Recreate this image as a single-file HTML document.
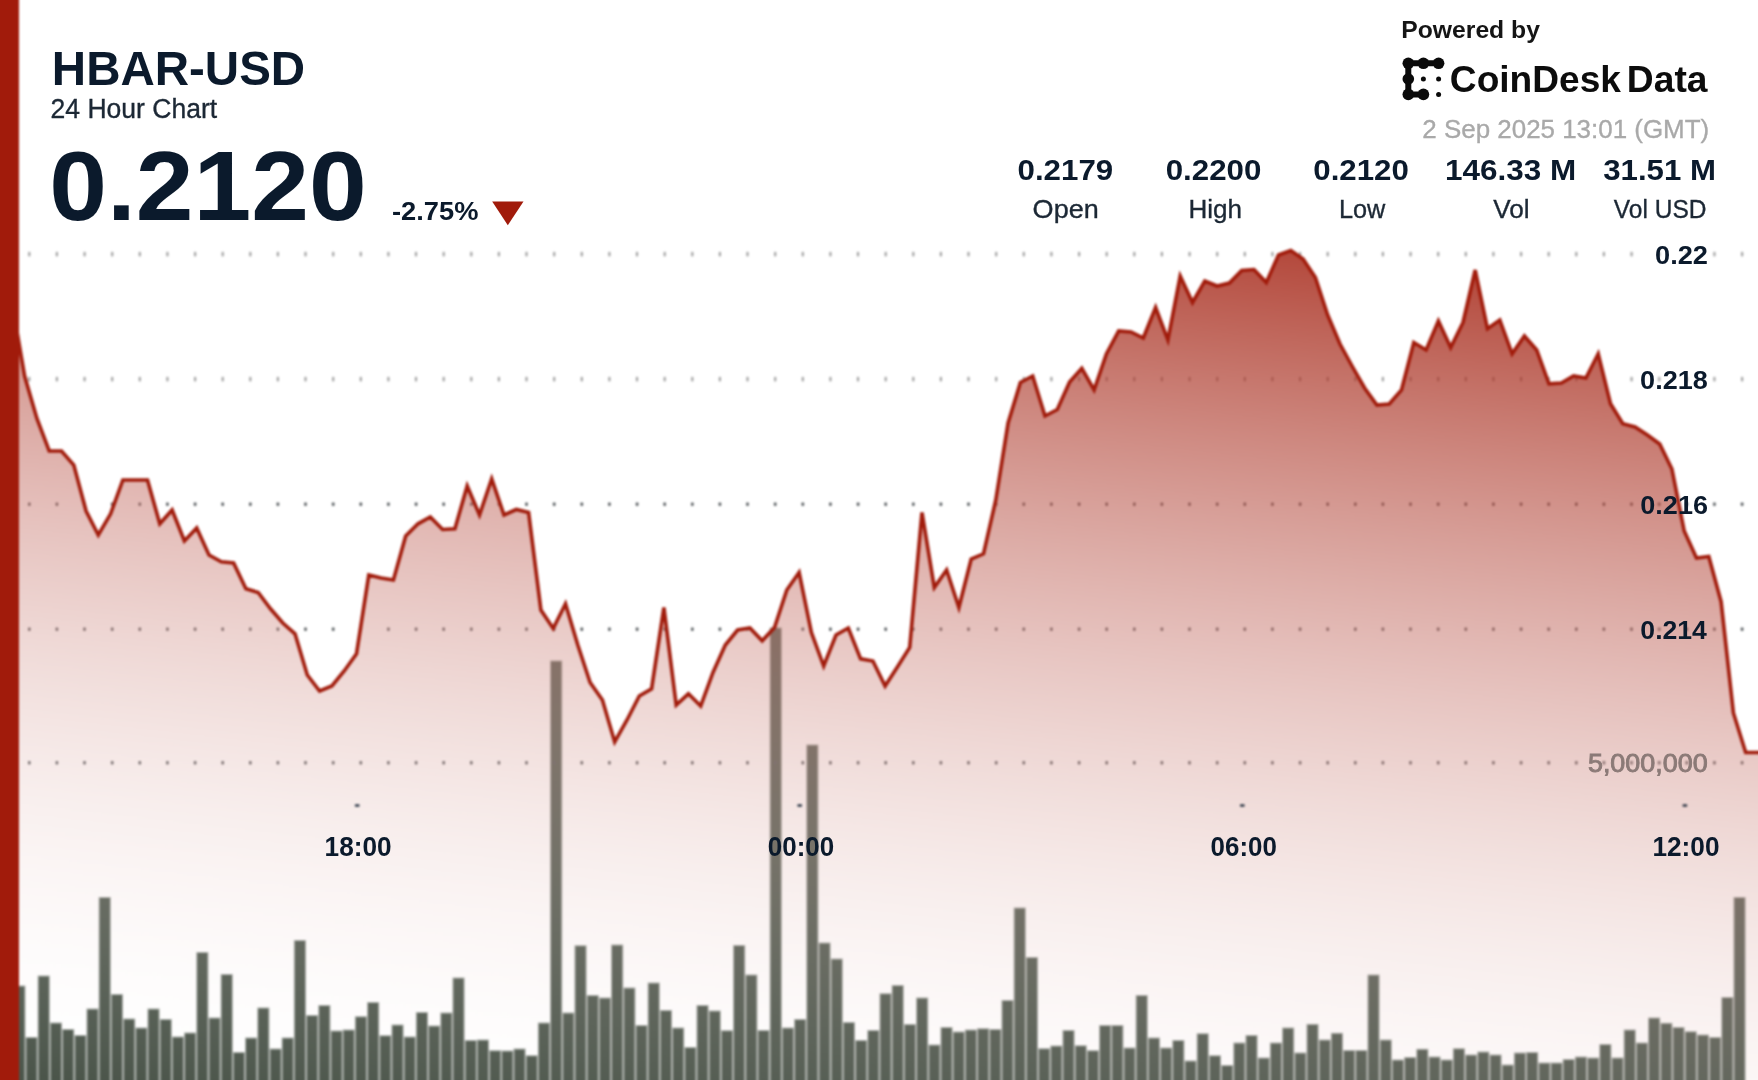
<!DOCTYPE html>
<html><head><meta charset="utf-8"><title>HBAR-USD 24 Hour Chart</title>
<style>
html,body{margin:0;padding:0;background:#fff;}
body{width:1758px;height:1080px;overflow:hidden;position:relative;font-family:"Liberation Sans",sans-serif;}
svg{position:absolute;left:0;top:0;display:block}
text{font-family:"Liberation Sans",sans-serif;}
.b{font-weight:700}
</style></head><body>
<svg width="1798" height="1120" viewBox="-20 -20 1798 1120" style="left:-20px;top:-20px">
<defs>
<linearGradient id="g" gradientUnits="userSpaceOnUse" x1="0" y1="103" x2="-111.2" y2="1074.3">
<stop offset="0.00" stop-color="#a11b0b" stop-opacity="0.800"/>
<stop offset="0.10" stop-color="#aa3223" stop-opacity="0.720"/>
<stop offset="0.20" stop-color="#b4493c" stop-opacity="0.640"/>
<stop offset="0.30" stop-color="#bd5f54" stop-opacity="0.560"/>
<stop offset="0.40" stop-color="#c7766d" stop-opacity="0.480"/>
<stop offset="0.50" stop-color="#d08d85" stop-opacity="0.400"/>
<stop offset="0.60" stop-color="#d9a49d" stop-opacity="0.320"/>
<stop offset="0.70" stop-color="#e3bbb6" stop-opacity="0.240"/>
<stop offset="0.80" stop-color="#ecd1ce" stop-opacity="0.160"/>
<stop offset="0.90" stop-color="#f6e8e7" stop-opacity="0.080"/>
<stop offset="1.00" stop-color="#ffffff" stop-opacity="0.000"/>
</linearGradient>
<linearGradient id="bg" gradientUnits="userSpaceOnUse" x1="0" y1="650" x2="0" y2="1080">
<stop offset="0" stop-color="#576156"/><stop offset="1" stop-color="#495348"/>
</linearGradient>
</defs>
<g style="filter:blur(1.0px)">
<rect x="-20" y="-20" width="1798" height="1120" fill="#fff"/>

<g fill="url(#bg)" stroke="#525c51" stroke-opacity="0.5" stroke-width="2.0">
<rect x="2.05" y="1000.5" width="10.2" height="105.0"/>
<rect x="14.25" y="986.5" width="10.2" height="119.0"/>
<rect x="26.45" y="1038.0" width="10.2" height="67.5"/>
<rect x="38.65" y="976.5" width="10.2" height="129.0"/>
<rect x="50.85" y="1023.5" width="10.2" height="82.0"/>
<rect x="63.05" y="1030.0" width="10.2" height="75.5"/>
<rect x="75.25" y="1036.0" width="10.2" height="69.5"/>
<rect x="87.45" y="1009.5" width="10.2" height="96.0"/>
<rect x="99.65" y="898.0" width="10.2" height="207.5"/>
<rect x="111.85" y="995.0" width="10.2" height="110.5"/>
<rect x="124.05" y="1019.5" width="10.2" height="86.0"/>
<rect x="136.25" y="1028.5" width="10.2" height="77.0"/>
<rect x="148.45" y="1009.5" width="10.2" height="96.0"/>
<rect x="160.65" y="1020.0" width="10.2" height="85.5"/>
<rect x="172.85" y="1037.5" width="10.2" height="68.0"/>
<rect x="185.05" y="1033.5" width="10.2" height="72.0"/>
<rect x="197.25" y="953.0" width="10.2" height="152.5"/>
<rect x="209.45" y="1018.5" width="10.2" height="87.0"/>
<rect x="221.65" y="975.0" width="10.2" height="130.5"/>
<rect x="233.85" y="1053.0" width="10.2" height="52.5"/>
<rect x="246.05" y="1038.5" width="10.2" height="67.0"/>
<rect x="258.25" y="1008.5" width="10.2" height="97.0"/>
<rect x="270.45" y="1049.5" width="10.2" height="56.0"/>
<rect x="282.65" y="1038.5" width="10.2" height="67.0"/>
<rect x="294.85" y="941.0" width="10.2" height="164.5"/>
<rect x="307.05" y="1016.0" width="10.2" height="89.5"/>
<rect x="319.25" y="1006.0" width="10.2" height="99.5"/>
<rect x="331.45" y="1031.5" width="10.2" height="74.0"/>
<rect x="343.65" y="1030.5" width="10.2" height="75.0"/>
<rect x="355.85" y="1017.2" width="10.2" height="88.2"/>
<rect x="368.05" y="1003.0" width="10.2" height="102.5"/>
<rect x="380.25" y="1036.2" width="10.2" height="69.2"/>
<rect x="392.45" y="1025.5" width="10.2" height="80.0"/>
<rect x="404.65" y="1037.5" width="10.2" height="68.0"/>
<rect x="416.85" y="1013.0" width="10.2" height="92.5"/>
<rect x="429.05" y="1026.5" width="10.2" height="79.0"/>
<rect x="441.25" y="1013.5" width="10.2" height="92.0"/>
<rect x="453.45" y="978.5" width="10.2" height="127.0"/>
<rect x="465.65" y="1041.0" width="10.2" height="64.5"/>
<rect x="477.85" y="1040.5" width="10.2" height="65.0"/>
<rect x="490.05" y="1051.2" width="10.2" height="54.2"/>
<rect x="502.25" y="1051.5" width="10.2" height="54.0"/>
<rect x="514.45" y="1049.5" width="10.2" height="56.0"/>
<rect x="526.65" y="1056.2" width="10.2" height="49.2"/>
<rect x="538.85" y="1023.5" width="10.2" height="82.0"/>
<rect x="551.05" y="661.5" width="10.2" height="444.0"/>
<rect x="563.25" y="1013.5" width="10.2" height="92.0"/>
<rect x="575.45" y="946.2" width="10.2" height="159.2"/>
<rect x="587.65" y="996.0" width="10.2" height="109.5"/>
<rect x="599.85" y="998.5" width="10.2" height="107.0"/>
<rect x="612.05" y="945.5" width="10.2" height="160.0"/>
<rect x="624.25" y="988.5" width="10.2" height="117.0"/>
<rect x="636.45" y="1026.0" width="10.2" height="79.5"/>
<rect x="648.65" y="983.5" width="10.2" height="122.0"/>
<rect x="660.85" y="1011.0" width="10.2" height="94.5"/>
<rect x="673.05" y="1028.5" width="10.2" height="77.0"/>
<rect x="685.25" y="1048.0" width="10.2" height="57.5"/>
<rect x="697.45" y="1006.0" width="10.2" height="99.5"/>
<rect x="709.65" y="1011.5" width="10.2" height="94.0"/>
<rect x="721.85" y="1031.2" width="10.2" height="74.2"/>
<rect x="734.05" y="946.0" width="10.2" height="159.5"/>
<rect x="746.25" y="975.5" width="10.2" height="130.0"/>
<rect x="758.45" y="1031.0" width="10.2" height="74.5"/>
<rect x="770.65" y="628.5" width="10.2" height="477.0"/>
<rect x="782.85" y="1028.5" width="10.2" height="77.0"/>
<rect x="795.05" y="1020.0" width="10.2" height="85.5"/>
<rect x="807.25" y="745.5" width="10.2" height="360.0"/>
<rect x="819.45" y="943.5" width="10.2" height="162.0"/>
<rect x="831.65" y="959.5" width="10.2" height="146.0"/>
<rect x="843.85" y="1023.0" width="10.2" height="82.5"/>
<rect x="856.05" y="1041.0" width="10.2" height="64.5"/>
<rect x="868.25" y="1031.0" width="10.2" height="74.5"/>
<rect x="880.45" y="994.2" width="10.2" height="111.2"/>
<rect x="892.65" y="986.0" width="10.2" height="119.5"/>
<rect x="904.85" y="1025.0" width="10.2" height="80.5"/>
<rect x="917.05" y="998.5" width="10.2" height="107.0"/>
<rect x="929.25" y="1045.5" width="10.2" height="60.0"/>
<rect x="941.45" y="1028.0" width="10.2" height="77.5"/>
<rect x="953.65" y="1032.5" width="10.2" height="73.0"/>
<rect x="965.85" y="1030.5" width="10.2" height="75.0"/>
<rect x="978.05" y="1029.2" width="10.2" height="76.2"/>
<rect x="990.25" y="1030.0" width="10.2" height="75.5"/>
<rect x="1002.45" y="1001.0" width="10.2" height="104.5"/>
<rect x="1014.65" y="908.5" width="10.2" height="197.0"/>
<rect x="1026.85" y="958.0" width="10.2" height="147.5"/>
<rect x="1039.05" y="1049.2" width="10.2" height="56.2"/>
<rect x="1051.25" y="1046.5" width="10.2" height="59.0"/>
<rect x="1063.45" y="1031.0" width="10.2" height="74.5"/>
<rect x="1075.65" y="1046.2" width="10.2" height="59.2"/>
<rect x="1087.85" y="1051.2" width="10.2" height="54.2"/>
<rect x="1100.05" y="1026.0" width="10.2" height="79.5"/>
<rect x="1112.25" y="1026.0" width="10.2" height="79.5"/>
<rect x="1124.45" y="1048.5" width="10.2" height="57.0"/>
<rect x="1136.65" y="996.0" width="10.2" height="109.5"/>
<rect x="1148.85" y="1038.5" width="10.2" height="67.0"/>
<rect x="1161.05" y="1048.5" width="10.2" height="57.0"/>
<rect x="1173.25" y="1041.0" width="10.2" height="64.5"/>
<rect x="1185.45" y="1061.5" width="10.2" height="44.0"/>
<rect x="1197.65" y="1034.2" width="10.2" height="71.2"/>
<rect x="1209.85" y="1056.2" width="10.2" height="49.2"/>
<rect x="1222.05" y="1066.0" width="10.2" height="39.5"/>
<rect x="1234.25" y="1043.5" width="10.2" height="62.0"/>
<rect x="1246.45" y="1036.0" width="10.2" height="69.5"/>
<rect x="1258.65" y="1058.5" width="10.2" height="47.0"/>
<rect x="1270.85" y="1043.5" width="10.2" height="62.0"/>
<rect x="1283.05" y="1028.5" width="10.2" height="77.0"/>
<rect x="1295.25" y="1053.5" width="10.2" height="52.0"/>
<rect x="1307.45" y="1024.9" width="10.2" height="80.6"/>
<rect x="1319.65" y="1040.5" width="10.2" height="65.0"/>
<rect x="1331.85" y="1033.8" width="10.2" height="71.8"/>
<rect x="1344.05" y="1051.0" width="10.2" height="54.5"/>
<rect x="1356.25" y="1051.0" width="10.2" height="54.5"/>
<rect x="1368.45" y="975.5" width="10.2" height="130.0"/>
<rect x="1380.65" y="1040.5" width="10.2" height="65.0"/>
<rect x="1392.85" y="1060.5" width="10.2" height="45.0"/>
<rect x="1405.05" y="1058.0" width="10.2" height="47.5"/>
<rect x="1417.25" y="1049.8" width="10.2" height="55.8"/>
<rect x="1429.45" y="1057.5" width="10.2" height="48.0"/>
<rect x="1441.65" y="1060.5" width="10.2" height="45.0"/>
<rect x="1453.85" y="1049.2" width="10.2" height="56.2"/>
<rect x="1466.05" y="1055.5" width="10.2" height="50.0"/>
<rect x="1478.25" y="1052.5" width="10.2" height="53.0"/>
<rect x="1490.45" y="1055.5" width="10.2" height="50.0"/>
<rect x="1502.65" y="1065.5" width="10.2" height="40.0"/>
<rect x="1514.85" y="1053.5" width="10.2" height="52.0"/>
<rect x="1527.05" y="1053.0" width="10.2" height="52.5"/>
<rect x="1539.25" y="1063.5" width="10.2" height="42.0"/>
<rect x="1551.45" y="1063.5" width="10.2" height="42.0"/>
<rect x="1563.65" y="1060.0" width="10.2" height="45.5"/>
<rect x="1575.85" y="1057.5" width="10.2" height="48.0"/>
<rect x="1588.05" y="1058.5" width="10.2" height="47.0"/>
<rect x="1600.25" y="1045.0" width="10.2" height="60.5"/>
<rect x="1612.45" y="1058.5" width="10.2" height="47.0"/>
<rect x="1624.65" y="1030.5" width="10.2" height="75.0"/>
<rect x="1636.85" y="1043.5" width="10.2" height="62.0"/>
<rect x="1649.05" y="1018.5" width="10.2" height="87.0"/>
<rect x="1661.25" y="1023.8" width="10.2" height="81.8"/>
<rect x="1673.45" y="1028.0" width="10.2" height="77.5"/>
<rect x="1685.65" y="1032.2" width="10.2" height="73.2"/>
<rect x="1697.85" y="1035.5" width="10.2" height="70.0"/>
<rect x="1710.05" y="1038.0" width="10.2" height="67.5"/>
<rect x="1722.25" y="998.0" width="10.2" height="107.5"/>
<rect x="1734.45" y="898.0" width="10.2" height="207.5"/>
</g>
<g fill="#8a8a8a" opacity="0.8">
<rect x="28.2" y="251.8" width="2.2" height="4.8" rx="1"/>
<rect x="55.8" y="251.8" width="2.2" height="4.8" rx="1"/>
<rect x="83.5" y="251.8" width="2.2" height="4.8" rx="1"/>
<rect x="111.1" y="251.8" width="2.2" height="4.8" rx="1"/>
<rect x="138.7" y="251.8" width="2.2" height="4.8" rx="1"/>
<rect x="166.3" y="251.8" width="2.2" height="4.8" rx="1"/>
<rect x="194.0" y="251.8" width="2.2" height="4.8" rx="1"/>
<rect x="221.6" y="251.8" width="2.2" height="4.8" rx="1"/>
<rect x="249.2" y="251.8" width="2.2" height="4.8" rx="1"/>
<rect x="276.8" y="251.8" width="2.2" height="4.8" rx="1"/>
<rect x="304.4" y="251.8" width="2.2" height="4.8" rx="1"/>
<rect x="332.1" y="251.8" width="2.2" height="4.8" rx="1"/>
<rect x="359.7" y="251.8" width="2.2" height="4.8" rx="1"/>
<rect x="387.3" y="251.8" width="2.2" height="4.8" rx="1"/>
<rect x="414.9" y="251.8" width="2.2" height="4.8" rx="1"/>
<rect x="442.6" y="251.8" width="2.2" height="4.8" rx="1"/>
<rect x="470.2" y="251.8" width="2.2" height="4.8" rx="1"/>
<rect x="497.8" y="251.8" width="2.2" height="4.8" rx="1"/>
<rect x="525.4" y="251.8" width="2.2" height="4.8" rx="1"/>
<rect x="553.1" y="251.8" width="2.2" height="4.8" rx="1"/>
<rect x="580.7" y="251.8" width="2.2" height="4.8" rx="1"/>
<rect x="608.3" y="251.8" width="2.2" height="4.8" rx="1"/>
<rect x="635.9" y="251.8" width="2.2" height="4.8" rx="1"/>
<rect x="663.6" y="251.8" width="2.2" height="4.8" rx="1"/>
<rect x="691.2" y="251.8" width="2.2" height="4.8" rx="1"/>
<rect x="718.8" y="251.8" width="2.2" height="4.8" rx="1"/>
<rect x="746.4" y="251.8" width="2.2" height="4.8" rx="1"/>
<rect x="774.1" y="251.8" width="2.2" height="4.8" rx="1"/>
<rect x="801.7" y="251.8" width="2.2" height="4.8" rx="1"/>
<rect x="829.3" y="251.8" width="2.2" height="4.8" rx="1"/>
<rect x="856.9" y="251.8" width="2.2" height="4.8" rx="1"/>
<rect x="884.6" y="251.8" width="2.2" height="4.8" rx="1"/>
<rect x="912.2" y="251.8" width="2.2" height="4.8" rx="1"/>
<rect x="939.8" y="251.8" width="2.2" height="4.8" rx="1"/>
<rect x="967.4" y="251.8" width="2.2" height="4.8" rx="1"/>
<rect x="995.1" y="251.8" width="2.2" height="4.8" rx="1"/>
<rect x="1022.7" y="251.8" width="2.2" height="4.8" rx="1"/>
<rect x="1050.3" y="251.8" width="2.2" height="4.8" rx="1"/>
<rect x="1078.0" y="251.8" width="2.2" height="4.8" rx="1"/>
<rect x="1105.6" y="251.8" width="2.2" height="4.8" rx="1"/>
<rect x="1133.2" y="251.8" width="2.2" height="4.8" rx="1"/>
<rect x="1160.8" y="251.8" width="2.2" height="4.8" rx="1"/>
<rect x="1188.5" y="251.8" width="2.2" height="4.8" rx="1"/>
<rect x="1216.1" y="251.8" width="2.2" height="4.8" rx="1"/>
<rect x="1243.7" y="251.8" width="2.2" height="4.8" rx="1"/>
<rect x="1271.3" y="251.8" width="2.2" height="4.8" rx="1"/>
<rect x="1299.0" y="251.8" width="2.2" height="4.8" rx="1"/>
<rect x="1326.6" y="251.8" width="2.2" height="4.8" rx="1"/>
<rect x="1354.2" y="251.8" width="2.2" height="4.8" rx="1"/>
<rect x="1381.8" y="251.8" width="2.2" height="4.8" rx="1"/>
<rect x="1409.5" y="251.8" width="2.2" height="4.8" rx="1"/>
<rect x="1437.1" y="251.8" width="2.2" height="4.8" rx="1"/>
<rect x="1464.7" y="251.8" width="2.2" height="4.8" rx="1"/>
<rect x="1492.3" y="251.8" width="2.2" height="4.8" rx="1"/>
<rect x="1520.0" y="251.8" width="2.2" height="4.8" rx="1"/>
<rect x="1547.6" y="251.8" width="2.2" height="4.8" rx="1"/>
<rect x="1575.2" y="251.8" width="2.2" height="4.8" rx="1"/>
<rect x="1602.8" y="251.8" width="2.2" height="4.8" rx="1"/>
<rect x="1630.5" y="251.8" width="2.2" height="4.8" rx="1"/>
<rect x="1658.1" y="251.8" width="2.2" height="4.8" rx="1"/>
<rect x="1685.7" y="251.8" width="2.2" height="4.8" rx="1"/>
<rect x="1713.3" y="251.8" width="2.2" height="4.8" rx="1"/>
<rect x="1741.0" y="251.8" width="2.2" height="4.8" rx="1"/>
</g>
<g fill="#8a8a8a" opacity="0.8">
<rect x="28.2" y="376.8" width="2.2" height="4.8" rx="1"/>
<rect x="55.8" y="376.8" width="2.2" height="4.8" rx="1"/>
<rect x="83.5" y="376.8" width="2.2" height="4.8" rx="1"/>
<rect x="111.1" y="376.8" width="2.2" height="4.8" rx="1"/>
<rect x="138.7" y="376.8" width="2.2" height="4.8" rx="1"/>
<rect x="166.3" y="376.8" width="2.2" height="4.8" rx="1"/>
<rect x="194.0" y="376.8" width="2.2" height="4.8" rx="1"/>
<rect x="221.6" y="376.8" width="2.2" height="4.8" rx="1"/>
<rect x="249.2" y="376.8" width="2.2" height="4.8" rx="1"/>
<rect x="276.8" y="376.8" width="2.2" height="4.8" rx="1"/>
<rect x="304.4" y="376.8" width="2.2" height="4.8" rx="1"/>
<rect x="332.1" y="376.8" width="2.2" height="4.8" rx="1"/>
<rect x="359.7" y="376.8" width="2.2" height="4.8" rx="1"/>
<rect x="387.3" y="376.8" width="2.2" height="4.8" rx="1"/>
<rect x="414.9" y="376.8" width="2.2" height="4.8" rx="1"/>
<rect x="442.6" y="376.8" width="2.2" height="4.8" rx="1"/>
<rect x="470.2" y="376.8" width="2.2" height="4.8" rx="1"/>
<rect x="497.8" y="376.8" width="2.2" height="4.8" rx="1"/>
<rect x="525.4" y="376.8" width="2.2" height="4.8" rx="1"/>
<rect x="553.1" y="376.8" width="2.2" height="4.8" rx="1"/>
<rect x="580.7" y="376.8" width="2.2" height="4.8" rx="1"/>
<rect x="608.3" y="376.8" width="2.2" height="4.8" rx="1"/>
<rect x="635.9" y="376.8" width="2.2" height="4.8" rx="1"/>
<rect x="663.6" y="376.8" width="2.2" height="4.8" rx="1"/>
<rect x="691.2" y="376.8" width="2.2" height="4.8" rx="1"/>
<rect x="718.8" y="376.8" width="2.2" height="4.8" rx="1"/>
<rect x="746.4" y="376.8" width="2.2" height="4.8" rx="1"/>
<rect x="774.1" y="376.8" width="2.2" height="4.8" rx="1"/>
<rect x="801.7" y="376.8" width="2.2" height="4.8" rx="1"/>
<rect x="829.3" y="376.8" width="2.2" height="4.8" rx="1"/>
<rect x="856.9" y="376.8" width="2.2" height="4.8" rx="1"/>
<rect x="884.6" y="376.8" width="2.2" height="4.8" rx="1"/>
<rect x="912.2" y="376.8" width="2.2" height="4.8" rx="1"/>
<rect x="939.8" y="376.8" width="2.2" height="4.8" rx="1"/>
<rect x="967.4" y="376.8" width="2.2" height="4.8" rx="1"/>
<rect x="995.1" y="376.8" width="2.2" height="4.8" rx="1"/>
<rect x="1022.7" y="376.8" width="2.2" height="4.8" rx="1"/>
<rect x="1050.3" y="376.8" width="2.2" height="4.8" rx="1"/>
<rect x="1078.0" y="376.8" width="2.2" height="4.8" rx="1"/>
<rect x="1105.6" y="376.8" width="2.2" height="4.8" rx="1"/>
<rect x="1133.2" y="376.8" width="2.2" height="4.8" rx="1"/>
<rect x="1160.8" y="376.8" width="2.2" height="4.8" rx="1"/>
<rect x="1188.5" y="376.8" width="2.2" height="4.8" rx="1"/>
<rect x="1216.1" y="376.8" width="2.2" height="4.8" rx="1"/>
<rect x="1243.7" y="376.8" width="2.2" height="4.8" rx="1"/>
<rect x="1271.3" y="376.8" width="2.2" height="4.8" rx="1"/>
<rect x="1299.0" y="376.8" width="2.2" height="4.8" rx="1"/>
<rect x="1326.6" y="376.8" width="2.2" height="4.8" rx="1"/>
<rect x="1354.2" y="376.8" width="2.2" height="4.8" rx="1"/>
<rect x="1381.8" y="376.8" width="2.2" height="4.8" rx="1"/>
<rect x="1409.5" y="376.8" width="2.2" height="4.8" rx="1"/>
<rect x="1437.1" y="376.8" width="2.2" height="4.8" rx="1"/>
<rect x="1464.7" y="376.8" width="2.2" height="4.8" rx="1"/>
<rect x="1492.3" y="376.8" width="2.2" height="4.8" rx="1"/>
<rect x="1520.0" y="376.8" width="2.2" height="4.8" rx="1"/>
<rect x="1547.6" y="376.8" width="2.2" height="4.8" rx="1"/>
<rect x="1575.2" y="376.8" width="2.2" height="4.8" rx="1"/>
<rect x="1602.8" y="376.8" width="2.2" height="4.8" rx="1"/>
<rect x="1630.5" y="376.8" width="2.2" height="4.8" rx="1"/>
<rect x="1658.1" y="376.8" width="2.2" height="4.8" rx="1"/>
<rect x="1685.7" y="376.8" width="2.2" height="4.8" rx="1"/>
<rect x="1713.3" y="376.8" width="2.2" height="4.8" rx="1"/>
<rect x="1741.0" y="376.8" width="2.2" height="4.8" rx="1"/>
</g>
<g fill="#565b5e">
<rect x="28.0" y="502.5" width="2.6" height="3.4" rx="0.8"/>
<rect x="55.6" y="502.5" width="2.6" height="3.4" rx="0.8"/>
<rect x="83.2" y="502.5" width="2.6" height="3.4" rx="0.8"/>
<rect x="110.9" y="502.5" width="2.6" height="3.4" rx="0.8"/>
<rect x="138.5" y="502.5" width="2.6" height="3.4" rx="0.8"/>
<rect x="166.1" y="502.5" width="2.6" height="3.4" rx="0.8"/>
<rect x="193.8" y="502.5" width="2.6" height="3.4" rx="0.8"/>
<rect x="221.4" y="502.5" width="2.6" height="3.4" rx="0.8"/>
<rect x="249.0" y="502.5" width="2.6" height="3.4" rx="0.8"/>
<rect x="276.6" y="502.5" width="2.6" height="3.4" rx="0.8"/>
<rect x="304.2" y="502.5" width="2.6" height="3.4" rx="0.8"/>
<rect x="331.9" y="502.5" width="2.6" height="3.4" rx="0.8"/>
<rect x="359.5" y="502.5" width="2.6" height="3.4" rx="0.8"/>
<rect x="387.1" y="502.5" width="2.6" height="3.4" rx="0.8"/>
<rect x="414.8" y="502.5" width="2.6" height="3.4" rx="0.8"/>
<rect x="442.4" y="502.5" width="2.6" height="3.4" rx="0.8"/>
<rect x="470.0" y="502.5" width="2.6" height="3.4" rx="0.8"/>
<rect x="497.6" y="502.5" width="2.6" height="3.4" rx="0.8"/>
<rect x="525.2" y="502.5" width="2.6" height="3.4" rx="0.8"/>
<rect x="552.9" y="502.5" width="2.6" height="3.4" rx="0.8"/>
<rect x="580.5" y="502.5" width="2.6" height="3.4" rx="0.8"/>
<rect x="608.1" y="502.5" width="2.6" height="3.4" rx="0.8"/>
<rect x="635.8" y="502.5" width="2.6" height="3.4" rx="0.8"/>
<rect x="663.4" y="502.5" width="2.6" height="3.4" rx="0.8"/>
<rect x="691.0" y="502.5" width="2.6" height="3.4" rx="0.8"/>
<rect x="718.6" y="502.5" width="2.6" height="3.4" rx="0.8"/>
<rect x="746.2" y="502.5" width="2.6" height="3.4" rx="0.8"/>
<rect x="773.9" y="502.5" width="2.6" height="3.4" rx="0.8"/>
<rect x="801.5" y="502.5" width="2.6" height="3.4" rx="0.8"/>
<rect x="829.1" y="502.5" width="2.6" height="3.4" rx="0.8"/>
<rect x="856.8" y="502.5" width="2.6" height="3.4" rx="0.8"/>
<rect x="884.4" y="502.5" width="2.6" height="3.4" rx="0.8"/>
<rect x="912.0" y="502.5" width="2.6" height="3.4" rx="0.8"/>
<rect x="939.6" y="502.5" width="2.6" height="3.4" rx="0.8"/>
<rect x="967.2" y="502.5" width="2.6" height="3.4" rx="0.8"/>
<rect x="994.9" y="502.5" width="2.6" height="3.4" rx="0.8"/>
<rect x="1022.5" y="502.5" width="2.6" height="3.4" rx="0.8"/>
<rect x="1050.1" y="502.5" width="2.6" height="3.4" rx="0.8"/>
<rect x="1077.8" y="502.5" width="2.6" height="3.4" rx="0.8"/>
<rect x="1105.4" y="502.5" width="2.6" height="3.4" rx="0.8"/>
<rect x="1133.0" y="502.5" width="2.6" height="3.4" rx="0.8"/>
<rect x="1160.6" y="502.5" width="2.6" height="3.4" rx="0.8"/>
<rect x="1188.2" y="502.5" width="2.6" height="3.4" rx="0.8"/>
<rect x="1215.9" y="502.5" width="2.6" height="3.4" rx="0.8"/>
<rect x="1243.5" y="502.5" width="2.6" height="3.4" rx="0.8"/>
<rect x="1271.1" y="502.5" width="2.6" height="3.4" rx="0.8"/>
<rect x="1298.8" y="502.5" width="2.6" height="3.4" rx="0.8"/>
<rect x="1326.4" y="502.5" width="2.6" height="3.4" rx="0.8"/>
<rect x="1354.0" y="502.5" width="2.6" height="3.4" rx="0.8"/>
<rect x="1381.6" y="502.5" width="2.6" height="3.4" rx="0.8"/>
<rect x="1409.2" y="502.5" width="2.6" height="3.4" rx="0.8"/>
<rect x="1436.9" y="502.5" width="2.6" height="3.4" rx="0.8"/>
<rect x="1464.5" y="502.5" width="2.6" height="3.4" rx="0.8"/>
<rect x="1492.1" y="502.5" width="2.6" height="3.4" rx="0.8"/>
<rect x="1519.8" y="502.5" width="2.6" height="3.4" rx="0.8"/>
<rect x="1547.4" y="502.5" width="2.6" height="3.4" rx="0.8"/>
<rect x="1575.0" y="502.5" width="2.6" height="3.4" rx="0.8"/>
<rect x="1602.6" y="502.5" width="2.6" height="3.4" rx="0.8"/>
<rect x="1630.2" y="502.5" width="2.6" height="3.4" rx="0.8"/>
<rect x="1657.9" y="502.5" width="2.6" height="3.4" rx="0.8"/>
<rect x="1685.5" y="502.5" width="2.6" height="3.4" rx="0.8"/>
<rect x="1713.1" y="502.5" width="2.6" height="3.4" rx="0.8"/>
<rect x="1740.8" y="502.5" width="2.6" height="3.4" rx="0.8"/>
</g>
<g fill="#565b5e">
<rect x="28.0" y="627.5" width="2.6" height="3.4" rx="0.8"/>
<rect x="55.6" y="627.5" width="2.6" height="3.4" rx="0.8"/>
<rect x="83.2" y="627.5" width="2.6" height="3.4" rx="0.8"/>
<rect x="110.9" y="627.5" width="2.6" height="3.4" rx="0.8"/>
<rect x="138.5" y="627.5" width="2.6" height="3.4" rx="0.8"/>
<rect x="166.1" y="627.5" width="2.6" height="3.4" rx="0.8"/>
<rect x="193.8" y="627.5" width="2.6" height="3.4" rx="0.8"/>
<rect x="221.4" y="627.5" width="2.6" height="3.4" rx="0.8"/>
<rect x="249.0" y="627.5" width="2.6" height="3.4" rx="0.8"/>
<rect x="276.6" y="627.5" width="2.6" height="3.4" rx="0.8"/>
<rect x="304.2" y="627.5" width="2.6" height="3.4" rx="0.8"/>
<rect x="331.9" y="627.5" width="2.6" height="3.4" rx="0.8"/>
<rect x="359.5" y="627.5" width="2.6" height="3.4" rx="0.8"/>
<rect x="387.1" y="627.5" width="2.6" height="3.4" rx="0.8"/>
<rect x="414.8" y="627.5" width="2.6" height="3.4" rx="0.8"/>
<rect x="442.4" y="627.5" width="2.6" height="3.4" rx="0.8"/>
<rect x="470.0" y="627.5" width="2.6" height="3.4" rx="0.8"/>
<rect x="497.6" y="627.5" width="2.6" height="3.4" rx="0.8"/>
<rect x="525.2" y="627.5" width="2.6" height="3.4" rx="0.8"/>
<rect x="552.9" y="627.5" width="2.6" height="3.4" rx="0.8"/>
<rect x="580.5" y="627.5" width="2.6" height="3.4" rx="0.8"/>
<rect x="608.1" y="627.5" width="2.6" height="3.4" rx="0.8"/>
<rect x="635.8" y="627.5" width="2.6" height="3.4" rx="0.8"/>
<rect x="663.4" y="627.5" width="2.6" height="3.4" rx="0.8"/>
<rect x="691.0" y="627.5" width="2.6" height="3.4" rx="0.8"/>
<rect x="718.6" y="627.5" width="2.6" height="3.4" rx="0.8"/>
<rect x="746.2" y="627.5" width="2.6" height="3.4" rx="0.8"/>
<rect x="773.9" y="627.5" width="2.6" height="3.4" rx="0.8"/>
<rect x="801.5" y="627.5" width="2.6" height="3.4" rx="0.8"/>
<rect x="829.1" y="627.5" width="2.6" height="3.4" rx="0.8"/>
<rect x="856.8" y="627.5" width="2.6" height="3.4" rx="0.8"/>
<rect x="884.4" y="627.5" width="2.6" height="3.4" rx="0.8"/>
<rect x="912.0" y="627.5" width="2.6" height="3.4" rx="0.8"/>
<rect x="939.6" y="627.5" width="2.6" height="3.4" rx="0.8"/>
<rect x="967.2" y="627.5" width="2.6" height="3.4" rx="0.8"/>
<rect x="994.9" y="627.5" width="2.6" height="3.4" rx="0.8"/>
<rect x="1022.5" y="627.5" width="2.6" height="3.4" rx="0.8"/>
<rect x="1050.1" y="627.5" width="2.6" height="3.4" rx="0.8"/>
<rect x="1077.8" y="627.5" width="2.6" height="3.4" rx="0.8"/>
<rect x="1105.4" y="627.5" width="2.6" height="3.4" rx="0.8"/>
<rect x="1133.0" y="627.5" width="2.6" height="3.4" rx="0.8"/>
<rect x="1160.6" y="627.5" width="2.6" height="3.4" rx="0.8"/>
<rect x="1188.2" y="627.5" width="2.6" height="3.4" rx="0.8"/>
<rect x="1215.9" y="627.5" width="2.6" height="3.4" rx="0.8"/>
<rect x="1243.5" y="627.5" width="2.6" height="3.4" rx="0.8"/>
<rect x="1271.1" y="627.5" width="2.6" height="3.4" rx="0.8"/>
<rect x="1298.8" y="627.5" width="2.6" height="3.4" rx="0.8"/>
<rect x="1326.4" y="627.5" width="2.6" height="3.4" rx="0.8"/>
<rect x="1354.0" y="627.5" width="2.6" height="3.4" rx="0.8"/>
<rect x="1381.6" y="627.5" width="2.6" height="3.4" rx="0.8"/>
<rect x="1409.2" y="627.5" width="2.6" height="3.4" rx="0.8"/>
<rect x="1436.9" y="627.5" width="2.6" height="3.4" rx="0.8"/>
<rect x="1464.5" y="627.5" width="2.6" height="3.4" rx="0.8"/>
<rect x="1492.1" y="627.5" width="2.6" height="3.4" rx="0.8"/>
<rect x="1519.8" y="627.5" width="2.6" height="3.4" rx="0.8"/>
<rect x="1547.4" y="627.5" width="2.6" height="3.4" rx="0.8"/>
<rect x="1575.0" y="627.5" width="2.6" height="3.4" rx="0.8"/>
<rect x="1602.6" y="627.5" width="2.6" height="3.4" rx="0.8"/>
<rect x="1630.2" y="627.5" width="2.6" height="3.4" rx="0.8"/>
<rect x="1657.9" y="627.5" width="2.6" height="3.4" rx="0.8"/>
<rect x="1685.5" y="627.5" width="2.6" height="3.4" rx="0.8"/>
<rect x="1713.1" y="627.5" width="2.6" height="3.4" rx="0.8"/>
<rect x="1740.8" y="627.5" width="2.6" height="3.4" rx="0.8"/>
</g>
<g fill="#565b5e">
<rect x="28.0" y="761.1" width="2.6" height="3.4" rx="0.8"/>
<rect x="55.6" y="761.1" width="2.6" height="3.4" rx="0.8"/>
<rect x="83.2" y="761.1" width="2.6" height="3.4" rx="0.8"/>
<rect x="110.9" y="761.1" width="2.6" height="3.4" rx="0.8"/>
<rect x="138.5" y="761.1" width="2.6" height="3.4" rx="0.8"/>
<rect x="166.1" y="761.1" width="2.6" height="3.4" rx="0.8"/>
<rect x="193.8" y="761.1" width="2.6" height="3.4" rx="0.8"/>
<rect x="221.4" y="761.1" width="2.6" height="3.4" rx="0.8"/>
<rect x="249.0" y="761.1" width="2.6" height="3.4" rx="0.8"/>
<rect x="276.6" y="761.1" width="2.6" height="3.4" rx="0.8"/>
<rect x="304.2" y="761.1" width="2.6" height="3.4" rx="0.8"/>
<rect x="331.9" y="761.1" width="2.6" height="3.4" rx="0.8"/>
<rect x="359.5" y="761.1" width="2.6" height="3.4" rx="0.8"/>
<rect x="387.1" y="761.1" width="2.6" height="3.4" rx="0.8"/>
<rect x="414.8" y="761.1" width="2.6" height="3.4" rx="0.8"/>
<rect x="442.4" y="761.1" width="2.6" height="3.4" rx="0.8"/>
<rect x="470.0" y="761.1" width="2.6" height="3.4" rx="0.8"/>
<rect x="497.6" y="761.1" width="2.6" height="3.4" rx="0.8"/>
<rect x="525.2" y="761.1" width="2.6" height="3.4" rx="0.8"/>
<rect x="552.9" y="761.1" width="2.6" height="3.4" rx="0.8"/>
<rect x="580.5" y="761.1" width="2.6" height="3.4" rx="0.8"/>
<rect x="608.1" y="761.1" width="2.6" height="3.4" rx="0.8"/>
<rect x="635.8" y="761.1" width="2.6" height="3.4" rx="0.8"/>
<rect x="663.4" y="761.1" width="2.6" height="3.4" rx="0.8"/>
<rect x="691.0" y="761.1" width="2.6" height="3.4" rx="0.8"/>
<rect x="718.6" y="761.1" width="2.6" height="3.4" rx="0.8"/>
<rect x="746.2" y="761.1" width="2.6" height="3.4" rx="0.8"/>
<rect x="773.9" y="761.1" width="2.6" height="3.4" rx="0.8"/>
<rect x="801.5" y="761.1" width="2.6" height="3.4" rx="0.8"/>
<rect x="829.1" y="761.1" width="2.6" height="3.4" rx="0.8"/>
<rect x="856.8" y="761.1" width="2.6" height="3.4" rx="0.8"/>
<rect x="884.4" y="761.1" width="2.6" height="3.4" rx="0.8"/>
<rect x="912.0" y="761.1" width="2.6" height="3.4" rx="0.8"/>
<rect x="939.6" y="761.1" width="2.6" height="3.4" rx="0.8"/>
<rect x="967.2" y="761.1" width="2.6" height="3.4" rx="0.8"/>
<rect x="994.9" y="761.1" width="2.6" height="3.4" rx="0.8"/>
<rect x="1022.5" y="761.1" width="2.6" height="3.4" rx="0.8"/>
<rect x="1050.1" y="761.1" width="2.6" height="3.4" rx="0.8"/>
<rect x="1077.8" y="761.1" width="2.6" height="3.4" rx="0.8"/>
<rect x="1105.4" y="761.1" width="2.6" height="3.4" rx="0.8"/>
<rect x="1133.0" y="761.1" width="2.6" height="3.4" rx="0.8"/>
<rect x="1160.6" y="761.1" width="2.6" height="3.4" rx="0.8"/>
<rect x="1188.2" y="761.1" width="2.6" height="3.4" rx="0.8"/>
<rect x="1215.9" y="761.1" width="2.6" height="3.4" rx="0.8"/>
<rect x="1243.5" y="761.1" width="2.6" height="3.4" rx="0.8"/>
<rect x="1271.1" y="761.1" width="2.6" height="3.4" rx="0.8"/>
<rect x="1298.8" y="761.1" width="2.6" height="3.4" rx="0.8"/>
<rect x="1326.4" y="761.1" width="2.6" height="3.4" rx="0.8"/>
<rect x="1354.0" y="761.1" width="2.6" height="3.4" rx="0.8"/>
<rect x="1381.6" y="761.1" width="2.6" height="3.4" rx="0.8"/>
<rect x="1409.2" y="761.1" width="2.6" height="3.4" rx="0.8"/>
<rect x="1436.9" y="761.1" width="2.6" height="3.4" rx="0.8"/>
<rect x="1464.5" y="761.1" width="2.6" height="3.4" rx="0.8"/>
<rect x="1492.1" y="761.1" width="2.6" height="3.4" rx="0.8"/>
<rect x="1519.8" y="761.1" width="2.6" height="3.4" rx="0.8"/>
<rect x="1547.4" y="761.1" width="2.6" height="3.4" rx="0.8"/>
<rect x="1575.0" y="761.1" width="2.6" height="3.4" rx="0.8"/>
<rect x="1602.6" y="761.1" width="2.6" height="3.4" rx="0.8"/>
<rect x="1630.2" y="761.1" width="2.6" height="3.4" rx="0.8"/>
<rect x="1657.9" y="761.1" width="2.6" height="3.4" rx="0.8"/>
<rect x="1685.5" y="761.1" width="2.6" height="3.4" rx="0.8"/>
<rect x="1713.1" y="761.1" width="2.6" height="3.4" rx="0.8"/>
<rect x="1740.8" y="761.1" width="2.6" height="3.4" rx="0.8"/>
</g>
<path d="M0.0,290.0 L12.3,304.0 L24.6,376.0 L36.9,418.5 L49.2,451.0 L61.5,451.0 L73.8,465.0 L86.1,511.0 L98.3,535.0 L110.6,513.8 L122.9,480.0 L135.2,480.0 L147.5,480.0 L159.8,523.8 L172.1,510.0 L184.4,541.0 L196.7,528.0 L209.0,555.0 L221.3,561.8 L233.6,563.0 L245.9,588.8 L258.2,592.5 L270.5,608.8 L282.8,623.0 L295.0,633.8 L307.3,675.0 L319.6,691.0 L331.9,686.0 L344.2,671.0 L356.5,653.8 L368.8,575.0 L381.1,578.0 L393.4,580.0 L405.7,536.0 L418.0,523.8 L430.3,517.0 L442.6,529.5 L454.9,528.8 L467.2,486.0 L479.5,515.0 L491.7,478.8 L504.0,515.0 L516.3,509.5 L528.6,512.5 L540.9,610.0 L553.2,628.5 L565.5,603.8 L577.8,645.0 L590.1,682.5 L602.4,700.0 L614.7,742.0 L627.0,720.0 L639.3,696.0 L651.6,688.8 L663.9,607.5 L676.2,705.0 L688.4,693.8 L700.7,706.0 L713.0,672.5 L725.3,645.0 L737.6,630.0 L749.9,628.0 L762.2,640.8 L774.5,627.5 L786.8,590.0 L799.1,572.5 L811.4,632.5 L823.7,666.0 L836.0,635.0 L848.3,628.0 L860.6,658.8 L872.9,661.0 L885.1,686.0 L897.4,667.0 L909.7,647.5 L922.0,512.5 L934.3,587.5 L946.6,570.0 L958.9,607.5 L971.2,559.0 L983.5,553.8 L995.8,500.0 L1008.1,423.0 L1020.4,382.5 L1032.7,376.0 L1045.0,416.0 L1057.3,409.5 L1069.6,382.0 L1081.8,368.3 L1094.1,390.0 L1106.4,354.0 L1118.7,331.0 L1131.0,332.0 L1143.3,338.0 L1155.6,307.5 L1167.9,340.0 L1180.2,276.0 L1192.5,302.5 L1204.8,281.0 L1217.1,286.0 L1229.4,283.0 L1241.7,270.5 L1254.0,269.5 L1266.3,282.5 L1278.5,255.0 L1290.8,250.5 L1303.1,259.0 L1315.4,277.5 L1327.7,315.0 L1340.0,344.0 L1352.3,366.5 L1364.6,388.0 L1376.9,405.0 L1389.2,404.0 L1401.5,390.0 L1413.8,342.5 L1426.1,350.0 L1438.4,321.0 L1450.7,347.5 L1463.0,322.5 L1475.2,270.0 L1487.5,328.8 L1499.8,320.0 L1512.1,353.8 L1524.4,336.0 L1536.7,350.0 L1549.0,383.8 L1561.3,383.0 L1573.6,376.0 L1585.9,378.0 L1598.2,353.8 L1610.5,403.8 L1622.8,423.8 L1635.1,427.0 L1647.4,435.0 L1659.7,444.0 L1671.9,469.0 L1684.2,531.0 L1696.5,558.0 L1708.8,556.5 L1721.1,601.7 L1733.4,713.0 L1745.7,752.5 L1758.0,752.5 L1778,752.5 L1778,1100 L-20,1100 L-20,290 Z" fill="url(#g)"/>
<path d="M0.0,290.0 L12.3,304.0 L24.6,376.0 L36.9,418.5 L49.2,451.0 L61.5,451.0 L73.8,465.0 L86.1,511.0 L98.3,535.0 L110.6,513.8 L122.9,480.0 L135.2,480.0 L147.5,480.0 L159.8,523.8 L172.1,510.0 L184.4,541.0 L196.7,528.0 L209.0,555.0 L221.3,561.8 L233.6,563.0 L245.9,588.8 L258.2,592.5 L270.5,608.8 L282.8,623.0 L295.0,633.8 L307.3,675.0 L319.6,691.0 L331.9,686.0 L344.2,671.0 L356.5,653.8 L368.8,575.0 L381.1,578.0 L393.4,580.0 L405.7,536.0 L418.0,523.8 L430.3,517.0 L442.6,529.5 L454.9,528.8 L467.2,486.0 L479.5,515.0 L491.7,478.8 L504.0,515.0 L516.3,509.5 L528.6,512.5 L540.9,610.0 L553.2,628.5 L565.5,603.8 L577.8,645.0 L590.1,682.5 L602.4,700.0 L614.7,742.0 L627.0,720.0 L639.3,696.0 L651.6,688.8 L663.9,607.5 L676.2,705.0 L688.4,693.8 L700.7,706.0 L713.0,672.5 L725.3,645.0 L737.6,630.0 L749.9,628.0 L762.2,640.8 L774.5,627.5 L786.8,590.0 L799.1,572.5 L811.4,632.5 L823.7,666.0 L836.0,635.0 L848.3,628.0 L860.6,658.8 L872.9,661.0 L885.1,686.0 L897.4,667.0 L909.7,647.5 L922.0,512.5 L934.3,587.5 L946.6,570.0 L958.9,607.5 L971.2,559.0 L983.5,553.8 L995.8,500.0 L1008.1,423.0 L1020.4,382.5 L1032.7,376.0 L1045.0,416.0 L1057.3,409.5 L1069.6,382.0 L1081.8,368.3 L1094.1,390.0 L1106.4,354.0 L1118.7,331.0 L1131.0,332.0 L1143.3,338.0 L1155.6,307.5 L1167.9,340.0 L1180.2,276.0 L1192.5,302.5 L1204.8,281.0 L1217.1,286.0 L1229.4,283.0 L1241.7,270.5 L1254.0,269.5 L1266.3,282.5 L1278.5,255.0 L1290.8,250.5 L1303.1,259.0 L1315.4,277.5 L1327.7,315.0 L1340.0,344.0 L1352.3,366.5 L1364.6,388.0 L1376.9,405.0 L1389.2,404.0 L1401.5,390.0 L1413.8,342.5 L1426.1,350.0 L1438.4,321.0 L1450.7,347.5 L1463.0,322.5 L1475.2,270.0 L1487.5,328.8 L1499.8,320.0 L1512.1,353.8 L1524.4,336.0 L1536.7,350.0 L1549.0,383.8 L1561.3,383.0 L1573.6,376.0 L1585.9,378.0 L1598.2,353.8 L1610.5,403.8 L1622.8,423.8 L1635.1,427.0 L1647.4,435.0 L1659.7,444.0 L1671.9,469.0 L1684.2,531.0 L1696.5,558.0 L1708.8,556.5 L1721.1,601.7 L1733.4,713.0 L1745.7,752.5 L1758.0,752.5 L1778,752.5" fill="none" stroke="#a11b0b" stroke-width="3.6" stroke-linejoin="miter" stroke-miterlimit="4" stroke-linecap="butt"/>
<rect x="-20" y="-20" width="39" height="1120" fill="#a11b0b"/>
<rect x="354.8" y="804.2" width="4.8" height="2.5" rx="1" fill="#0b1a2c" opacity="0.85"/>
<rect x="797.3" y="804.2" width="4.8" height="2.5" rx="1" fill="#0b1a2c" opacity="0.85"/>
<rect x="1239.9" y="804.2" width="4.8" height="2.5" rx="1" fill="#0b1a2c" opacity="0.85"/>
<rect x="1682.5" y="804.2" width="4.8" height="2.5" rx="1" fill="#0b1a2c" opacity="0.85"/>
</g><g style="filter:blur(0.7px)">
<text x="51.83" y="84.95" font-size="48.80" fill="#0b1a2c" class="b" textLength="253.28" lengthAdjust="spacingAndGlyphs">HBAR-USD</text>
<text x="50.50" y="117.80" font-size="26.80" fill="#1c2835" stroke="#1c2835" stroke-width="0.35" textLength="166.62" lengthAdjust="spacingAndGlyphs">24 Hour Chart</text>
<text x="49.16" y="220.30" font-size="99.00" fill="#0b1a2c" class="b" textLength="317.56" lengthAdjust="spacingAndGlyphs">0.2120</text>
<text x="392.03" y="220.20" font-size="26.00" fill="#0b1a2c" class="b" textLength="86.43" lengthAdjust="spacingAndGlyphs">-2.75%</text>
<text x="1017.53" y="180.30" font-size="29.30" fill="#0b1a2c" class="b" textLength="95.65" lengthAdjust="spacingAndGlyphs">0.2179</text>
<text x="1165.71" y="180.30" font-size="29.30" fill="#0b1a2c" class="b" textLength="95.61" lengthAdjust="spacingAndGlyphs">0.2200</text>
<text x="1313.27" y="180.30" font-size="29.30" fill="#0b1a2c" class="b" textLength="95.52" lengthAdjust="spacingAndGlyphs">0.2120</text>
<text x="1445.09" y="180.30" font-size="29.30" fill="#0b1a2c" class="b" textLength="131.08" lengthAdjust="spacingAndGlyphs">146.33 M</text>
<text x="1603.25" y="180.30" font-size="29.30" fill="#0b1a2c" class="b" textLength="112.64" lengthAdjust="spacingAndGlyphs">31.51 M</text>
<text x="1032.63" y="217.90" font-size="25.30" fill="#1c2835" stroke="#1c2835" stroke-width="0.35" textLength="66.09" lengthAdjust="spacingAndGlyphs">Open</text>
<text x="1188.49" y="217.90" font-size="25.30" fill="#1c2835" stroke="#1c2835" stroke-width="0.35" textLength="53.60" lengthAdjust="spacingAndGlyphs">High</text>
<text x="1338.94" y="217.90" font-size="25.30" fill="#1c2835" stroke="#1c2835" stroke-width="0.35" textLength="46.42" lengthAdjust="spacingAndGlyphs">Low</text>
<text x="1493.34" y="217.90" font-size="25.30" fill="#1c2835" stroke="#1c2835" stroke-width="0.35" textLength="36.36" lengthAdjust="spacingAndGlyphs">Vol</text>
<text x="1613.83" y="217.90" font-size="25.30" fill="#1c2835" stroke="#1c2835" stroke-width="0.35" textLength="92.65" lengthAdjust="spacingAndGlyphs">Vol USD</text>
<text x="1401.29" y="37.50" font-size="24.00" fill="#151515" class="b" textLength="138.60" lengthAdjust="spacingAndGlyphs">Powered by</text>
<text x="1449.85" y="92.40" font-size="37.00" fill="#0c0c0c" class="b" textLength="171.08" lengthAdjust="spacingAndGlyphs">CoinDesk</text>
<text x="1626.83" y="92.40" font-size="37.00" fill="#0c0c0c" class="b" textLength="80.63" lengthAdjust="spacingAndGlyphs">Data</text>
<text x="1422.35" y="137.60" font-size="25.70" fill="#a9a9a9" stroke="#a9a9a9" stroke-width="0.35" textLength="286.81" lengthAdjust="spacingAndGlyphs">2 Sep 2025 13:01 (GMT)</text>
<text x="1655.07" y="263.90" font-size="26.00" fill="#0b1a2c" class="b" textLength="52.93" lengthAdjust="spacingAndGlyphs">0.22</text>
<text x="1640.14" y="388.90" font-size="26.00" fill="#0b1a2c" class="b" textLength="67.66" lengthAdjust="spacingAndGlyphs">0.218</text>
<text x="1640.34" y="513.90" font-size="26.00" fill="#0b1a2c" class="b" textLength="67.67" lengthAdjust="spacingAndGlyphs">0.216</text>
<text x="1640.37" y="638.90" font-size="26.00" fill="#0b1a2c" class="b" textLength="66.56" lengthAdjust="spacingAndGlyphs">0.214</text>
<text x="1587.91" y="771.90" font-size="25.70" fill="#8b7a77" stroke="#8b7a77" stroke-width="0.9" textLength="119.76" lengthAdjust="spacingAndGlyphs">5,000,000</text>
<text x="324.62" y="856.40" font-size="27.00" fill="#0b1a2c" class="b" textLength="67.07" lengthAdjust="spacingAndGlyphs">18:00</text>
<text x="767.81" y="856.40" font-size="27.00" fill="#0b1a2c" class="b" textLength="66.48" lengthAdjust="spacingAndGlyphs">00:00</text>
<text x="1210.55" y="856.40" font-size="27.00" fill="#0b1a2c" class="b" textLength="66.33" lengthAdjust="spacingAndGlyphs">06:00</text>
<text x="1652.40" y="856.40" font-size="27.00" fill="#0b1a2c" class="b" textLength="67.08" lengthAdjust="spacingAndGlyphs">12:00</text>
<path d="M492.2,201.5 L523.5,201.5 L507.8,225.2 Z" fill="#a11b0b"/>
<g fill="#0a0a0a" stroke="#0a0a0a" stroke-width="6" stroke-linecap="round">
<path d="M1438.6,63.3 L1408.3,63.3 L1408.3,94.4 L1423.4,94.4" fill="none" stroke-linejoin="round"/>
</g><g fill="#0a0a0a">
<circle cx="1408.3" cy="63.3" r="5.8"/>
<circle cx="1423.4" cy="63.3" r="5.8"/>
<circle cx="1438.6" cy="63.3" r="5.8"/>
<circle cx="1408.3" cy="79.0" r="5.8"/>
<circle cx="1408.3" cy="94.4" r="5.8"/>
<circle cx="1423.4" cy="94.4" r="5.8"/>
<circle cx="1423.4" cy="79.0" r="2.5"/>
<circle cx="1438.6" cy="79.0" r="2.5"/>
<circle cx="1438.6" cy="94.4" r="2.5"/>
</g>
</g></svg></body></html>
